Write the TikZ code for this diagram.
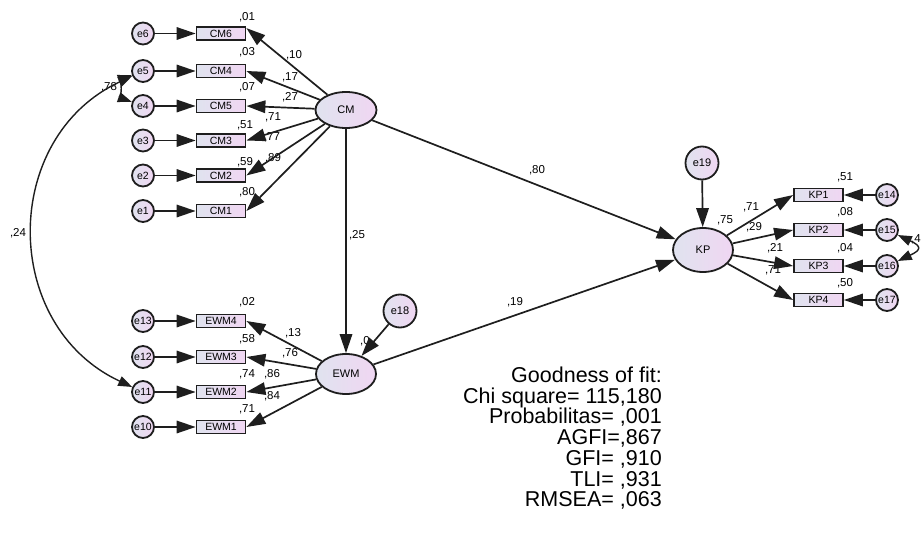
\documentclass[tikz,border=0pt]{standalone}
\usepackage{fontspec}
\setmainfont{Liberation Sans}
\usetikzlibrary{arrows.meta,shapes.geometric}
\definecolor{fillA}{HTML}{E0E3EF}
\definecolor{fillB}{HTML}{F0D6F2}
\definecolor{edgec}{HTML}{1E1E1E}
\tikzset{
 lat/.style={ellipse, draw=edgec, line width=1.8pt, left color=fillA, right color=fillB, inner sep=0pt, font=\fontsize{11}{12}\selectfont},
 err/.style={circle, draw=edgec, line width=1.8pt, left color=fillA, right color=fillB, minimum size=22pt, inner sep=0pt, font=\fontsize{10.5}{12}\selectfont},
 bigerr/.style={err, minimum size=33pt, font=\fontsize{11}{12}\selectfont},
 obs/.style={rectangle, draw=edgec, line width=1.8pt, left color=fillA, right color=fillB, minimum width=49pt, minimum height=13pt, inner sep=0pt, font=\fontsize{10.5}{11}\selectfont},
 arr/.style={line width=1.7pt, draw=edgec, -{Triangle[length=19pt,width=12.5pt]}},
 cov/.style={line width=1.4pt, draw=edgec, {Triangle[length=14pt,width=10pt]}-{Triangle[length=14pt,width=10pt]}},
 lab/.style={font=\fontsize{11.5}{12}\selectfont, inner sep=0pt},
 gof/.style={font=\fontsize{21.5}{21}\selectfont, inner sep=0pt, anchor=base east},
}
\begin{document}
\begin{tikzpicture}[x=1pt,y=1pt]
\useasboundingbox[fill=white] (0,0) rectangle (922,-538);

% latent variables
\node[lat, minimum width=61pt, minimum height=36pt] (CM) at (346,-110) {CM};
\node[lat, minimum width=60pt, minimum height=40pt] (EWM) at (346,-374) {EWM};
\node[lat, minimum width=60pt, minimum height=44pt] (KP) at (703,-250) {KP};

% CM indicators
\node[err] (e6) at (143,-33.5) {e6};
\node[err] (e5) at (143,-71) {e5};
\node[err] (e4) at (143,-106) {e4};
\node[err] (e3) at (143,-140.5) {e3};
\node[err] (e2) at (143,-175.5) {e2};
\node[err] (e1) at (143,-211) {e1};
\node[obs] (CM6) at (221,-33.5) {CM6};
\node[obs] (CM4) at (221,-71) {CM4};
\node[obs] (CM5) at (221,-106) {CM5};
\node[obs] (CM3) at (221,-140.5) {CM3};
\node[obs] (CM2) at (221,-175.5) {CM2};
\node[obs] (CM1) at (221,-211) {CM1};

% EWM indicators
\node[err] (e13) at (143,-321) {e13};
\node[err] (e12) at (143,-357) {e12};
\node[err] (e11) at (143,-392) {e11};
\node[err] (e10) at (143,-427) {e10};
\node[obs] (EWM4) at (221,-321) {EWM4};
\node[obs] (EWM3) at (221,-357) {EWM3};
\node[obs] (EWM2) at (221,-392) {EWM2};
\node[obs] (EWM1) at (221,-427) {EWM1};

% KP indicators
\node[obs] (KP1) at (818.5,-195) {KP1};
\node[obs] (KP2) at (818.5,-230) {KP2};
\node[obs] (KP3) at (818.5,-266) {KP3};
\node[obs] (KP4) at (818.5,-300) {KP4};
\node[err] (e14) at (887,-195) {e14};
\node[err] (e15) at (887,-230) {e15};
\node[err] (e16) at (887,-266) {e16};
\node[err] (e17) at (887,-300) {e17};

% disturbances
\node[bigerr] (e18) at (400,-311) {e18};
\node[bigerr] (e19) at (702,-163) {e19};

% labels
\node[lab] (r1) at (247,-17) {,01};
\node[lab] (r2) at (247,-52) {,03};
\node[lab] (r3) at (247,-87) {,07};
\node[lab] (r4) at (245,-125) {,51};
\node[lab] (r5) at (245,-162) {,59};
\node[lab] (r6) at (247,-192) {,80};
\node[lab] (p1) at (294,-55) {,10};
\node[lab] (p2) at (290,-77) {,17};
\node[lab] (p3) at (290,-97) {,27};
\node[lab] (p4) at (273,-117) {,71};
\node[lab] (p5) at (272,-137) {,77};
\node[lab] (p6) at (273,-158) {,89};

\node[lab] (r7) at (247,-302) {,02};
\node[lab] (r8) at (247,-339) {,58};
\node[lab] (r9) at (247,-374) {,74};
\node[lab] (r10) at (247,-409) {,71};
\node[lab] (p7) at (293,-333) {,13};
\node[lab] (p8) at (290,-353) {,76};
\node[lab] (p9) at (272,-374) {,86};
\node[lab] (p10) at (272,-396) {,84};

\node[lab] (r11) at (845,-177) {,51};
\node[lab] (r12) at (845,-212) {,08};
\node[lab] (r13) at (845,-248) {,04};
\node[lab] (r14) at (845,-283) {,50};
\node[lab] (p11) at (751,-207) {,71};
\node[lab] (p12) at (754,-227) {,29};
\node[lab] (p13) at (775,-248) {,21};
\node[lab] (p14) at (773,-270) {,71};
\node[lab] (r15) at (725,-220) {,75};

\node[lab] (s1) at (357,-235) {,25};
\node[lab] (s2) at (537,-170) {,80};
\node[lab] (s3) at (515,-302) {,19};
\node[lab] (r16) at (365,-341) {,0};

\node[lab] (c1) at (18,-233) {,24};
\node[lab] (c2) at (109,-87) {,78};
\node[lab, anchor=west] (c3) at (911,-239) {,4};

% connectors: errors to indicators
\foreach \a/\b in {e6/CM6,e5/CM4,e4/CM5,e3/CM3,e2/CM2,e1/CM1,e13/EWM4,e12/EWM3,e11/EWM2,e10/EWM1,e14/KP1,e15/KP2,e16/KP3,e17/KP4}
  \draw[arr] (\a) -- (\b);
% latent to indicators
\draw[arr] (CM) -- (CM6.12);
\foreach \b in {CM4,CM5,CM3,CM2,CM1}
  \draw[arr] (CM) -- (\b.east);
\foreach \b in {EWM4,EWM3,EWM2,EWM1}
  \draw[arr] (EWM) -- (\b.east);
\foreach \b in {KP1,KP2,KP3,KP4}
  \draw[arr] (KP) -- (\b.west);
% structural paths
\draw[arr] (CM) -- (EWM);
\draw[arr] (CM) -- (KP);
\draw[arr] (EWM) -- (KP);
\draw[arr] (e18) -- (EWM);
\draw[arr] (e19) -- (KP);

% covariances
\draw[cov] (e5) to[out=200,in=160] (e4);
\draw[cov] (e5) to[out=205,in=155,looseness=1.2] (e11);
\draw[cov] (e15) to[out=-25,in=25,looseness=2.6] (e16);

% goodness of fit
\node[gof] (g1) at (662,-382.3) {Goodness of fit:};
\node[gof] (g2) at (662,-403.0) {Chi square= 115,180};
\node[gof] (g3) at (662,-423.8) {Probabilitas= ,001};
\node[gof] (g4) at (662,-444.5) {AGFI=,867};
\node[gof] (g5) at (662,-465.2) {GFI= ,910};
\node[gof] (g6) at (662,-486.0) {TLI= ,931};
\node[gof] (g7) at (662,-506.7) {RMSEA= ,063};
\end{tikzpicture}
\end{document}
